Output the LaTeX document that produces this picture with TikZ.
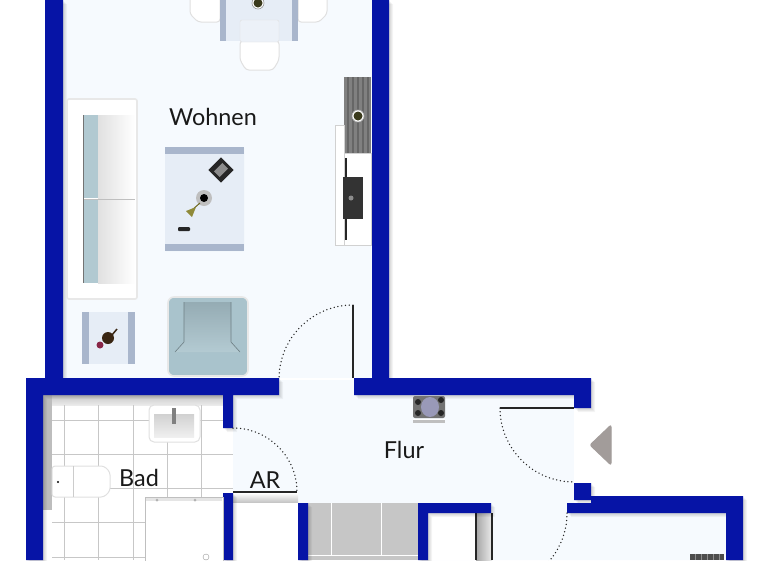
\documentclass[tikz,border=0pt]{standalone}
\usepackage{fontspec}
\setmainfont{Lato}
\usetikzlibrary{positioning}
\definecolor{wallblue}{HTML}{0614A6}
\definecolor{roomtint}{HTML}{F6FAFE}
\definecolor{tabletop}{HTML}{E6EDF6}
\definecolor{tablerim}{HTML}{A9B6CC}
\definecolor{seatblue}{HTML}{A9C3CC}
\definecolor{tilegrey}{HTML}{C6C6C6}
\definecolor{lampolive}{HTML}{3A3A1C}
\definecolor{entrygrey}{HTML}{A29C9A}
\newcommand{\wallrects}{
    (45,0) rectangle (63,380)
    (372,0) rectangle (389,380)
    (26,378) rectangle (279,395)
    (26,378) rectangle (43,560)
    (223,395) rectangle (233,428)
    (223,493) rectangle (233,560)
    (298,503) rectangle (308,560)
    (354,378) rectangle (591,395)
    (574,395) rectangle (591,408)
    (574,483) rectangle (591,500)
    (567,503) rectangle (600,513)
    (591,496) rectangle (743,513)
    (726,496) rectangle (743,560)
    (418,503) rectangle (491,513)
    (418,503) rectangle (428,560)
}
\tikzset{
    wall/.style = {fill=wallblue},
    doorswing/.style = {draw=black!85, line width=1.5pt, line cap=round, dash pattern=on 0pt off 3.8pt},
    doorleaf/.style = {draw=black!85, line width=1.1pt},
    tile/.style = {draw=black!22, line width=.6pt},
    whitepart/.style = {fill=white, draw=black!12, line width=1pt, rounded corners=3pt},
    softedge/.style = {draw=black!9, line width=1.6pt},
    roomname/.style = {text=black!90, font=\fontsize{23.4}{25}\selectfont, inner sep=0pt},
    strip/.style = {fill=tablerim},
}
\begin{document}
\begin{tikzpicture}[x=1pt, y=-1pt]

    \useasboundingbox (0,0) rectangle (768,560);
    \clip (0,0) rectangle (768,560);
    \fill[white] (0,0) rectangle (768,560);

    \fill[roomtint] (63,0) rectangle (372,378);
    \fill[roomtint] (233,380) rectangle (354,503) (354,395) rectangle (574,560) (491,513) rectangle (726,560);
    \fill[white] (574,408) rectangle (588,483);

    \fill[white] (43,395) rectangle (233,560);
    \shade[top color=black!22, bottom color=black!8] (43,395) rectangle (223,405);
    \fill[black!26] (43,395) rectangle (52,510);
    \foreach \xtile in {64, 98, 133, 167, 201}
    \draw[tile] (\xtile,405) -- (\xtile,560);
    \foreach \ytile in {420, 454, 488, 522, 557}
    \draw[tile] (52,\ytile) -- (233,\ytile);

    \fill[tilegrey] (308,503) rectangle (418,560);
    \foreach \xtile in {331, 381}
    \draw[white, line width=.8pt] (\xtile,503) -- (\xtile,555);
    \draw[white, line width=.8pt] (308,555) -- (418,555);
    \shade[top color=white, bottom color=black!25] (233,493) rectangle (298,503);
    \fill[white] (233,503) rectangle (298,560);
    \fill[white] (428,513) rectangle (476,560);
    \shade[left color=black!35, right color=black!8] (476,513) rectangle (492,560);
    \foreach \xleaf in {476, 492}
    \draw[doorleaf] (\xleaf,513) -- (\xleaf,560);

    \foreach \off in {1,...,4}
    \fill[black, opacity=.045, shift={(\off,\off)}] \wallrects;
    \fill[wall] \wallrects;

    \draw[doorswing] (353,305) arc[start angle=270, end angle=180, radius=74];
    \draw[doorswing] (233,428) arc[start angle=270, end angle=360, radius=64];
    \draw[doorswing] (500,408) arc[start angle=180, end angle=90, radius=74];
    \draw[doorswing] (567,513) arc[start angle=0, end angle=90, radius=74];
    \draw[doorleaf] (353,305) -- (353,378);
    \draw[doorleaf] (233,492) -- (297,492);
    \draw[doorleaf] (500,408) -- (574,408);

    \fill[entrygrey, rounded corners=2pt, draw=entrygrey, line width=1pt] (611,425) -- (611,465) -- (590,445) -- cycle;

    \fill[whitepart] (190,-6) -- (220,-6) -- (220,22) -- (198,22) -- (190,14) -- cycle;
    \fill[whitepart] (298,-6) -- (327,-6) -- (327,14) -- (319,22) -- (298,22) -- cycle;
    \fill[tabletop] (220,-2) rectangle (298,41);
    \foreach \xa/\xb in {220/226, 292/298}
    \fill[strip] (\xa,-2) rectangle (\xb,41);
    \fill[whitepart] (240,41) -- (279,41) -- (279,60) -- (273,70) -- (246,70) -- (240,60) -- cycle;
    \fill[tabletop!75!white, draw=black!12, rounded corners=2pt] (240,20) rectangle (279,42);
    \fill[white, draw=black!40, line width=.6pt] (258,3) circle (6);
    \fill[lampolive] (258,3) circle (4.5);

    \fill[black!50] (344,77) rectangle (371,153);
    \foreach \xstrip in {348, 353, 358, 363, 368}
    \draw[black!60, line width=1.2pt] (\xstrip,77) -- (\xstrip,153);
    \fill[white, draw=black!18, line width=.8pt] (335,125) rectangle (344,245) (344,153) rectangle (371,245);
    \fill[white, draw=black!30, line width=.6pt] (358,116) circle (6);
    \fill[lampolive] (358,116) circle (4.5);
    \draw[black!85, line width=1.2pt] (346,158) -- (346,240);
    \fill[black!80] (343,177) rectangle (363,219);
    \fill[black!45] (351,198) circle (2.5);

    \fill[white, softedge, rounded corners=2pt] (67,99) rectangle (137,299);
    \shade[left color=black!12, right color=white] (98,115) rectangle (135,283);
    \foreach \ya/\yb in {115/198, 200/283}
    \fill[seatblue!90!white] (83,\ya) rectangle (98,\yb);
    \draw[black!25, line width=.6pt] (83,199) -- (135,199);
    \draw[black!55, line width=.7pt] (83,115) -- (83,283);

    \fill[tabletop, rounded corners=1pt] (165,147) rectangle (244,251);
    \foreach \ya/\yb in {147/154, 244/251}
    \fill[strip] (165,\ya) rectangle (244,\yb);
    \fill[black!85, rotate around={45:(221,170)}] (212,161) rectangle (230,179);
    \fill[black!45, rotate around={45:(221,170)}] (215,166) rectangle (227,174);
    \fill[black!25] (204,198) circle (8);
    \fill[black] (204,198) circle (4);
    \draw[olive!70!black, line width=1pt] (200,203) -- (192,210);
    \fill[olive!75!black!80!white] (196,207) -- (186,211) -- (192,217) -- cycle;
    \fill[black!85, rounded corners=1pt] (178,227) rectangle (190,231);

    \fill[tabletop] (82,312) rectangle (135,364);
    \foreach \xa/\xb in {82/89, 128/135}
    \fill[strip] (\xa,312) rectangle (\xb,364);
    \fill[purple!60!black!85!white] (100,345) circle (3.5);
    \fill[black!70!brown] (108,338) circle (6);
    \draw[black!70!brown, line width=1.5pt] (112,335) -- (117,329);

    \fill[seatblue, softedge, rounded corners=6pt] (168,297) rectangle (248,376);
    \shade[top color=seatblue!88!black, bottom color=seatblue!88!white] (184,302) -- (231,302) -- (231,342) -- (240,352) -- (175,352) -- (184,342) -- cycle;
    \draw[seatblue!65!black, line width=.6pt] (184,302) -- (184,342) -- (175,352) (231,302) -- (231,342) -- (240,352);

    \fill[black!55, rounded corners=2pt] (413,396) rectangle (445,418);
    \foreach \xblot/\yblot in {418/402, 418/413, 441/413, 441/400}
    \fill[black!85] (\xblot,\yblot) circle (3);
    \fill[blue!30!black!40] (430,407) ellipse (9 and 10);
    \fill[black!25] (413,420) rectangle (445,423);
    \draw[white, line width=.8pt] (413,419) -- (445,419);

    \fill[whitepart, rounded corners=5pt] (149,405) rectangle (200,442);
    \shade[top color=black!18, bottom color=black!6] (154,414) rectangle (194,437);
    \fill[black!50] (172,408) rectangle (176,424);

    \fill[whitepart] (52,466) -- (104,466) -- (110,472) -- (110,491) -- (104,497) -- (52,497) -- cycle;
    \draw[black!20] (73,466) -- (73,497);
    \fill[black] (58,482) circle (1.2);

    \fill[white, draw=black!25, line width=.6pt] (145,497) rectangle (223,570);
    \fill[black!10] (146,498) rectangle (222,501);
    \foreach \xknob in {157, 195}
    \fill[black!30] (\xknob,500) circle (1.5);
    \draw[black!40] (206,557) circle (3);

    \fill[black!70] (690,554) rectangle (724,560);
    \foreach \xstrip in {695, 701, 707, 713, 719}
    \draw[black!45, line width=.8pt] (\xstrip,554) -- (\xstrip,560);

    \node[roomname] (wohnen) at (213,117) {Wohnen};
    \node[roomname] (flur) at (404,450) {Flur};
    \node[roomname] (bad) at (139,478) {Bad};
    \node[roomname] (abstell) at (265,480) {AR};

\end{tikzpicture}
\end{document}
